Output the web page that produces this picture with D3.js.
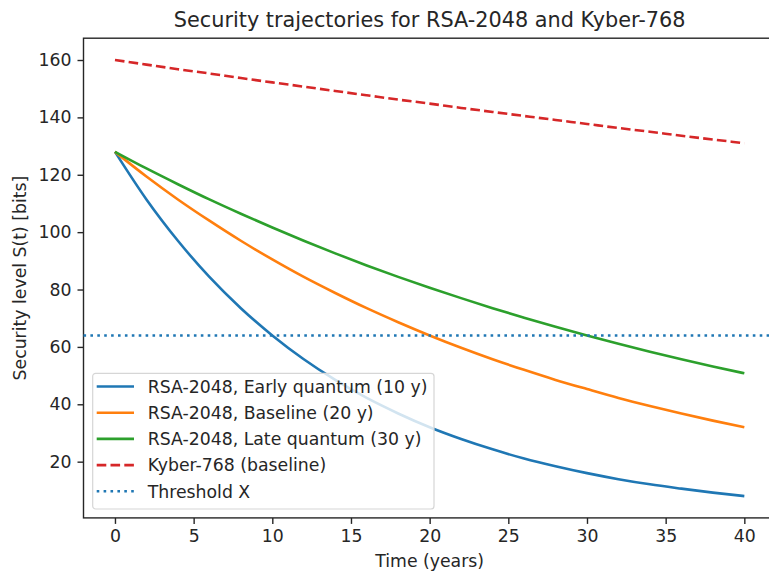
<!DOCTYPE html>
<html>
<head>
<meta charset="utf-8">
<script src="https://cdn.jsdelivr.net/npm/d3@7"></script>
<style>
  body { margin: 0; background: #fff; }
  text { font-family: "DejaVu Sans", sans-serif; fill: #262626; }
</style>
</head>
<body>
<svg id="chart" width="769" height="574"></svg>
<script>
// values, every 2 years
const years = [0, 2, 4, 6, 8, 10, 12, 14, 16, 18, 20, 22, 24, 26, 28, 30, 32, 34, 36, 38, 40];
const rsaEarly = [128, 111.4, 97.0, 84.4, 73.5, 64, 55.7, 48.5, 42.2, 36.8, 32, 27.9, 24.3, 21.1, 18.4, 16, 13.9, 12.1, 10.6, 9.2, 8];
const rsaBase = [128, 119.4, 111.4, 104.0, 97.0, 90.5, 84.4, 78.8, 73.5, 68.6, 64, 59.7, 55.7, 52.0, 48.5, 45.3, 42.2, 39.4, 36.8, 34.3, 32];
const rsaLate = [128, 122.2, 116.7, 111.4, 106.4, 101.6, 97.0, 92.6, 88.4, 84.4, 80.6, 77.0, 73.5, 70.2, 67.0, 64, 61.1, 58.3, 55.7, 53.2, 50.8];
const kyber = [160, 158.4, 156.8, 155.3, 153.7, 152.2, 150.7, 149.2, 147.7, 146.2, 144.8, 143.3, 141.9, 140.5, 139.1, 137.7, 136.3, 135.0, 133.6, 132.3, 131.0];
const threshold = 64;
const xTicks = [0, 5, 10, 15, 20, 25, 30, 35, 40];
const yTicks = [20, 40, 60, 80, 100, 120, 140, 160];

const DASHED = '9.6,4.2';
const DOTTED = '2.6,4.3';
const LW = 2.6;

const series = [
  { label: 'RSA-2048, Early quantum (10 y)', values: rsaEarly, color: '#1f77b4', dash: null },
  { label: 'RSA-2048, Baseline (20 y)', values: rsaBase, color: '#ff7f0e', dash: null },
  { label: 'RSA-2048, Late quantum (30 y)', values: rsaLate, color: '#2ca02c', dash: null },
  { label: 'Kyber-768 (baseline)', values: kyber, color: '#d62728', dash: DASHED }
];

const svg = d3.select('#chart');
const m = { left: 83.5, right: 775.8, top: 38.2, bottom: 517.9 };

const x = d3.scaleLinear().domain([-2, 42]).range([m.left, m.right]);
const y = d3.scaleLinear().domain([0.4, 167.6]).range([m.bottom, m.top]);

// axes
const xAxis = svg.append('g')
  .attr('transform', 'translate(0,' + m.bottom + ')')
  .call(d3.axisBottom(x).tickValues(xTicks).tickSize(6).tickPadding(6).tickFormat(d3.format('d')));
const yAxis = svg.append('g')
  .attr('transform', 'translate(' + m.left + ',0)')
  .call(d3.axisLeft(y).tickValues(yTicks).tickSize(6).tickPadding(6).tickFormat(d3.format('d')));
[xAxis, yAxis].forEach(a => {
  a.select('.domain').remove();
  a.selectAll('line').attr('stroke', '#262626').attr('stroke-width', 1.4);
  a.selectAll('text').style('font-size', '17.3px').attr('fill', '#262626');
});

svg.append('rect')
  .attr('x', m.left).attr('y', m.top)
  .attr('width', m.right - m.left).attr('height', m.bottom - m.top)
  .attr('fill', 'none').attr('stroke', '#262626').attr('stroke-width', 1.4);

// lines
const line = d3.line()
  .x((d, i) => x(years[i]))
  .y(d => y(d))
  .curve(d3.curveMonotoneX);

series.forEach(s => {
  svg.append('path')
    .datum(s.values)
    .attr('d', line)
    .attr('fill', 'none')
    .attr('stroke', s.color)
    .attr('stroke-width', LW)
    .attr('stroke-dasharray', s.dash);
});

svg.append('line')
  .attr('x1', m.left).attr('x2', m.right)
  .attr('y1', y(threshold)).attr('y2', y(threshold))
  .attr('stroke', '#1f77b4')
  .attr('stroke-width', LW)
  .attr('stroke-dasharray', DOTTED);

// legend
const legendItems = series.concat([{ label: 'Threshold X', color: '#1f77b4', dash: DOTTED }]);
const lg = svg.append('g').attr('transform', 'translate(92.7,373.3)');
lg.append('rect')
  .attr('width', 341.3).attr('height', 135.7)
  .attr('rx', 3)
  .attr('fill', '#fff').attr('fill-opacity', 0.8)
  .attr('stroke', '#d6d6d6').attr('stroke-width', 1.2);
legendItems.forEach((s, i) => {
  const cy = 13.2 + i * 26.2;
  lg.append('line')
    .attr('x1', 4).attr('x2', 41.3)
    .attr('y1', cy).attr('y2', cy)
    .attr('stroke', s.color).attr('stroke-width', LW)
    .attr('stroke-dasharray', s.dash);
  lg.append('text')
    .attr('x', 55).attr('y', cy).attr('dy', '0.36em')
    .style('font-size', '17.3px')
    .text(s.label);
});

// labels
svg.append('text')
  .attr('x', (m.left + m.right) / 2).attr('y', 26.7)
  .attr('text-anchor', 'middle')
  .style('font-size', '20.8px')
  .text('Security trajectories for RSA-2048 and Kyber-768');

svg.append('text')
  .attr('x', (m.left + m.right) / 2).attr('y', 566.7)
  .attr('text-anchor', 'middle')
  .style('font-size', '17.3px')
  .text('Time (years)');

svg.append('text')
  .attr('transform', 'translate(20,' + (m.top + m.bottom) / 2 + ') rotate(-90)')
  .attr('text-anchor', 'middle')
  .attr('dy', '0.36em')
  .style('font-size', '17.3px')
  .text('Security level S(t) [bits]');
</script>
</body>
</html>
